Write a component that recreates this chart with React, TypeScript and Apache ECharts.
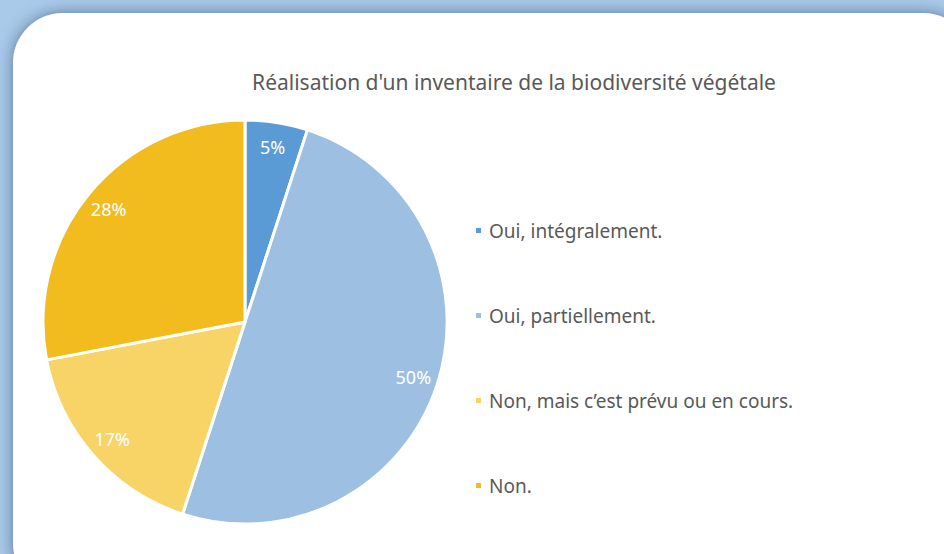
import React, { useEffect, useRef } from "react";
import * as echarts from "echarts";

const title = "Réalisation d'un inventaire de la biodiversité végétale";
const categories = [
  "Oui, intégralement.",
  "Oui, partiellement.",
  "Non, mais c’est prévu ou en cours.",
  "Non.",
];
const values = [5, 50, 17, 28];
const colors = ["#5B9BD5", "#9DC0E2", "#F8D466", "#F3BC1E"];

const FONT = "'Noto Sans', 'DejaVu Sans', sans-serif";

export default function App() {
  const ref = useRef<HTMLDivElement>(null);
  useEffect(() => {
    if (!ref.current) return;
    const chart = echarts.init(ref.current, undefined, { renderer: "svg" });
    const data = categories.map((name, i) => ({ name, value: values[i] }));
    chart.setOption({
      animation: false,
      backgroundColor: "#AACAEA",
      color: colors,
      title: {
        text: title,
        left: 509,
        textAlign: "center",
        top: 66,
        textStyle: { fontFamily: FONT, fontSize: 21, fontWeight: "normal", color: "#595959" },
      },
      graphic: [
        {
          type: "rect",
          z: -10,
          silent: true,
          shape: { x: 13, y: 13, width: 960, height: 580, r: 50 },
          style: {
            fill: "#ffffff",
            shadowBlur: 16,
            shadowColor: "rgba(40,60,90,0.6)",
          },
        },
      ],
      legend: {
        orient: "vertical",
        left: 469,
        top: 216,
        itemWidth: 7,
        itemHeight: 7,
        itemGap: 66,
        icon: "rect",
        data: categories,
        textStyle: { fontFamily: FONT, fontSize: 19, color: "#595959", padding: [0, 0, 0, 2] },
      },
      series: [
        {
          type: "pie",
          center: [245, 322],
          radius: [0, 202],
          startAngle: 90,
          clockwise: true,
          data,
          label: { show: false },
          labelLine: { show: false },
          itemStyle: { borderColor: "#ffffff", borderWidth: 3 },
          emphasis: { disabled: true },
        },
        {
          type: "pie",
          center: [245, 322],
          radius: [146, 202],
          startAngle: 90,
          clockwise: true,
          silent: true,
          data,
          itemStyle: { color: "transparent", borderWidth: 0 },
          label: {
            show: true,
            position: "inside",
            formatter: (p: any) => p.value + "%",
            color: "#ffffff",
            fontFamily: FONT,
            fontSize: 18,
          },
          labelLine: { show: false },
          emphasis: { disabled: true },
        },
      ],
    });
    return () => chart.dispose();
  }, []);
  return (
    <div
      ref={ref}
      style={{ position: "fixed", left: 0, top: 0, width: 944, height: 554 }}
    />
  );
}
